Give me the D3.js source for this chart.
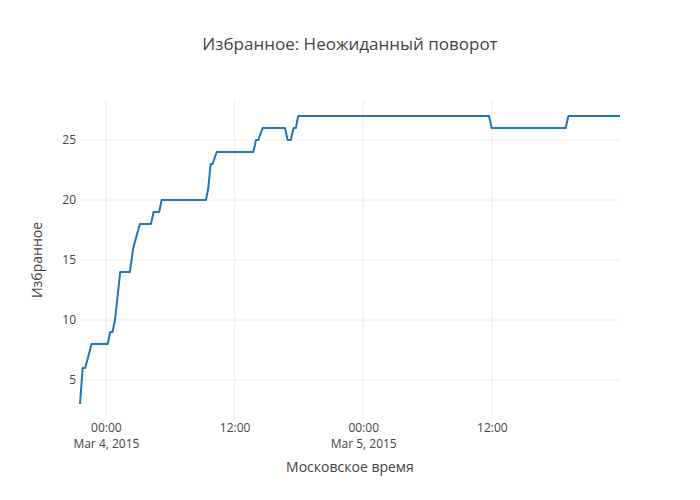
<!DOCTYPE html>
<html>
<head>
<meta charset="utf-8">
<script src="https://cdn.jsdelivr.net/npm/d3@7"></script>
<style>
  body { margin: 0; background: #fff; }
  svg { font-family: "Open Sans", sans-serif; }
</style>
</head>
<body>
<svg width="700" height="500"></svg>
<script>
const width = 700;
const height = 500;
const margin = {top: 100, right: 80, bottom: 80, left: 80};

// vertices of the line (Moscow time)
const times = [
  '2015-03-03 21:35', '2015-03-03 21:50', '2015-03-03 22:04', '2015-03-03 22:40',
  '2015-03-04 00:10', '2015-03-04 00:24', '2015-03-04 00:37', '2015-03-04 00:51',
  '2015-03-04 01:20', '2015-03-04 02:14', '2015-03-04 02:33', '2015-03-04 03:10',
  '2015-03-04 04:12', '2015-03-04 04:27', '2015-03-04 04:58', '2015-03-04 05:12',
  '2015-03-04 09:20', '2015-03-04 09:33', '2015-03-04 09:46', '2015-03-04 09:57',
  '2015-03-04 10:20', '2015-03-04 13:45', '2015-03-04 14:00', '2015-03-04 14:13',
  '2015-03-04 14:37', '2015-03-04 16:42', '2015-03-04 16:57', '2015-03-04 17:15',
  '2015-03-04 17:30', '2015-03-04 17:43', '2015-03-04 17:56', '2015-03-05 11:44',
  '2015-03-05 11:59', '2015-03-05 18:53', '2015-03-05 19:08', '2015-03-05 23:57'
];
const favorites = [
  3, 6, 6, 8,
  8, 9, 9, 10,
  14, 14, 16, 18,
  18, 19, 19, 20,
  20, 21, 23, 23,
  24, 24, 25, 25,
  26, 26, 25, 25,
  26, 26, 27, 27,
  26, 26, 27, 27
];
const xTickValues = ['2015-03-04 00:00', '2015-03-04 12:00', '2015-03-05 00:00', '2015-03-05 12:00'];
const xTickLabels = [['00:00', 'Mar 4, 2015'], ['12:00'], ['00:00', 'Mar 5, 2015'], ['12:00']];
const yTickValues = [5, 10, 15, 20, 25];

const parse = d3.utcParse('%Y-%m-%d %H:%M');
const data = times.map((t, i) => ({date: parse(t), value: favorites[i]}));

const svg = d3.select('svg');

//Scales
const xScale = d3.scaleUtc()
  .domain(d3.extent(data, d => d.date))
  .range([margin.left, width - margin.right]);

const yExtent = d3.extent(data, d => d.value);
const yPad = (yExtent[1] - yExtent[0]) / 18;
const yScale = d3.scaleLinear()
  .domain([yExtent[0] - yPad, yExtent[1] + yPad])
  .range([height - margin.bottom, margin.top]);

//Grid lines
svg.append('g')
  .selectAll('line')
  .data(xTickValues.map(parse))
  .enter()
  .append('line')
    .attr('x1', d => xScale(d))
    .attr('x2', d => xScale(d))
    .attr('y1', margin.top)
    .attr('y2', height - margin.bottom)
    .attr('stroke', '#eee')
    .attr('stroke-width', 1);

svg.append('g')
  .selectAll('line')
  .data(yTickValues)
  .enter()
  .append('line')
    .attr('x1', margin.left)
    .attr('x2', width - margin.right)
    .attr('y1', d => yScale(d))
    .attr('y2', d => yScale(d))
    .attr('stroke', '#eee')
    .attr('stroke-width', 1);

//Axes
const xAxis = d3.axisBottom(xScale)
  .tickValues(xTickValues.map(parse))
  .tickSize(0)
  .tickFormat('');
const xg = svg.append('g')
  .attr('transform', `translate(0, ${height - margin.bottom})`)
  .attr('font-family', '"Open Sans", sans-serif')
  .call(xAxis);
xg.select('.domain').remove();
xg.selectAll('.tick').each(function(d, i) {
  const t = d3.select(this).append('text')
    .attr('fill', '#444')
    .attr('text-anchor', 'middle')
    .style('font-family', '"Open Sans", sans-serif')
    .style('font-size', '12px');
  xTickLabels[i].forEach((line, j) => {
    t.append('tspan')
      .attr('x', 0)
      .attr('y', 12 + j * 16)
      .text(line);
  });
});

const yAxis = d3.axisLeft(yScale)
  .tickValues(yTickValues)
  .tickSize(0)
  .tickPadding(4);
const yg = svg.append('g')
  .attr('transform', `translate(${margin.left}, 0)`)
  .call(yAxis);
yg.select('.domain').remove();
yg.selectAll('text')
  .attr('fill', '#444')
  .style('font-size', '12px')
  .style('font-family', '"Open Sans", sans-serif');

//Line
const line = d3.line()
  .x(d => xScale(d.date))
  .y(d => yScale(d.value));

svg.append('path')
  .datum(data)
  .attr('fill', 'none')
  .attr('stroke', '#1f77b4')
  .attr('stroke-width', 2)
  .attr('stroke-linejoin', 'round')
  .attr('d', line);

//Titles
svg.append('text')
  .attr('x', width / 2)
  .attr('y', 50)
  .attr('text-anchor', 'middle')
  .attr('fill', '#444')
  .style('font-size', '17px')
  .text('Избранное: Неожиданный поворот');

svg.append('text')
  .attr('x', (margin.left + width - margin.right) / 2)
  .attr('y', 472)
  .attr('text-anchor', 'middle')
  .attr('fill', '#444')
  .style('font-size', '14px')
  .text('Московское время');

svg.append('text')
  .attr('transform', 'rotate(-90)')
  .attr('x', -(margin.top + height - margin.bottom) / 2)
  .attr('y', 42)
  .attr('text-anchor', 'middle')
  .attr('fill', '#444')
  .style('font-size', '14px')
  .text('Избранное');
</script>
</body>
</html>
